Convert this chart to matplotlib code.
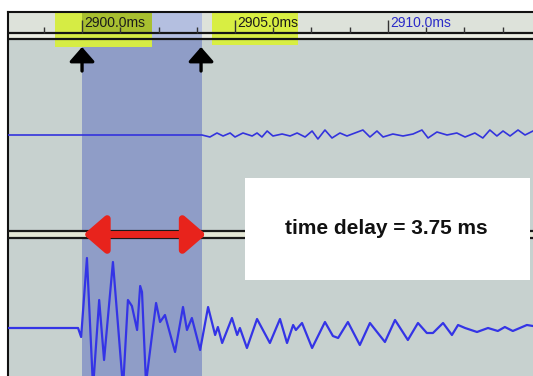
import matplotlib
matplotlib.use("Agg")
import matplotlib.pyplot as plt
from matplotlib.patches import Rectangle, FancyArrowPatch

# ---------------- data (time in ms, amplitude in screen units, up = positive) ----------------
major_ticks = [2900.0, 2905.0, 2910.0]
major_labels = ["2900.0ms", "2905.0ms", "2910.0ms"]
minor_ticks = [2898.75, 2901.25, 2902.5, 2903.75, 2906.25, 2907.5, 2908.75,
               2911.25, 2912.5, 2913.75]

sel_start, sel_end = 2900.0, 2903.92
delay_label = "time delay = 3.75 ms"

# upper trace (reference receiver)
t_top = [2897.58, 2903.92, 2904.18, 2904.41, 2904.61, 2904.84, 2905.00, 2905.26,
         2905.56, 2905.72, 2905.88, 2906.05, 2906.24, 2906.54, 2906.80, 2907.03,
         2907.29, 2907.52, 2907.71, 2907.94, 2908.17, 2908.43, 2908.66, 2909.18,
         2909.41, 2909.64, 2909.84, 2910.16, 2910.49, 2910.82, 2911.11, 2911.31,
         2911.60, 2911.93, 2912.25, 2912.52, 2912.84, 2913.10, 2913.33, 2913.56,
         2913.76, 2913.99, 2914.25, 2914.48, 2914.74]
a_top = [0, 0, -2, 2, -1, 2, -2, 2,
         -1, 2, -2, 4, -1, 1, -1, 2,
         -2, 4, -4, 5, -3, 2, -1, 5,
         -2, 4, -2, 1, -1, 1, 5, -3,
         3, 0, 2, -2, 2, -3, 5, -1,
         4, -1, 5, 0, 4]

# lower trace (delayed receiver)
t_bot = [2897.58, 2899.87, 2899.97, 2900.16, 2900.36, 2900.56, 2900.72, 2901.01,
         2901.34, 2901.50, 2901.63, 2901.80, 2901.90, 2901.96, 2902.09, 2902.42,
         2902.55, 2902.71, 2903.04, 2903.30, 2903.43, 2903.59, 2903.86, 2904.12,
         2904.35, 2904.44, 2904.58, 2904.90, 2905.07, 2905.16, 2905.39, 2905.72,
         2906.14, 2906.47, 2906.70, 2906.90, 2906.99, 2907.19, 2907.52, 2907.94,
         2908.20, 2908.37, 2908.69, 2909.08, 2909.41, 2909.90, 2910.23, 2910.65,
         2910.98, 2911.27, 2911.47, 2911.80, 2912.09, 2912.29, 2912.52, 2912.91,
         2913.27, 2913.59, 2913.82, 2914.08, 2914.54, 2914.74]
a_bot = [0, 0, -9, 70, -60, 28, -32, 66,
         -60, 28, 22, -2, 42, 36, -55, 25,
         6, 13, -24, 21, -2, 10, -22, 21,
         -7, 1, -15, 10, -7, 0, -20, 9,
         -15, 9, -15, 3, -2, 5, -20, 6,
         -8, -10, 6, -17, 5, -14, 8, -12,
         5, -5, -5, 5, -7, 3, 0, -4,
         0, -3, 1, -3, 3, 2]

# ---------------- layout ----------------
W, H = 533, 376
fig = plt.figure(figsize=(W / 100, H / 100), dpi=100)
fig.patch.set_facecolor("white")
ax = fig.add_axes([8 / W, 0, (W - 8) / W, (H - 12) / H])
x0, x1 = 2897.58, 2914.74
ax.set_xlim(x0, x1)
ax.set_ylim(376, 12)
ax.set_facecolor("#c7d1cf")
for s in ("right", "bottom"):
    ax.spines[s].set_visible(False)
for s in ("left", "top"):
    ax.spines[s].set_color("#111111")
    ax.spines[s].set_linewidth(1.5)
ax.set_xticks([])
ax.set_yticks([])

RULER_TOP, RULER_BOT, LINE2 = 12, 33, 39
BASE1, BASE2 = 135, 328
MID1, MID2 = 231, 238

def rect(xa, xb, ya, yb, color, z):
    ax.add_patch(Rectangle((xa, ya), xb - xa, yb - ya, facecolor=color,
                           edgecolor="none", zorder=z))

# ruler background
rect(x0, x1, RULER_TOP, RULER_BOT, "#dde2da", 1)
rect(x0, x1, RULER_BOT, LINE2, "#eceee4", 1)
# selection region
rect(sel_start, sel_end, LINE2, 376, "#8f9dc7", 1.2)
rect(sel_start, sel_end, RULER_TOP, LINE2, "#b4bfe0", 1.2)
# yellow highlights
rect(2899.12, 2902.29, RULER_TOP, 47, "#d6ec44", 1.5)
rect(sel_start, 2902.29, RULER_TOP, RULER_BOT, "#a8bf30", 1.6)
rect(2904.25, 2907.06, RULER_TOP, 45, "#d8ee42", 1.5)

# ruler lines and ticks
ax.hlines([RULER_BOT, LINE2], x0, x1, color="#151515", lw=1.6, zorder=3)
ax.vlines(major_ticks, 20, RULER_BOT, color="#333333", lw=1.0, zorder=3)
ax.vlines(minor_ticks, 27, RULER_BOT, color="#333333", lw=1.0, zorder=3)
label_colors = ["#1a1a1a", "#1a1a1a", "#2a2ac8"]
for t, lab, c in zip(major_ticks, major_labels, label_colors):
    ax.text(t + 0.08, 27.5, lab, fontsize=10, family="Liberation Sans",
            color=c, ha="left", va="baseline", zorder=4)

# selection markers (black up arrows)
for t in (sel_start, sel_end - 0.03):
    ax.add_patch(FancyArrowPatch((t, 71), (t, 47),
                 arrowstyle="-|>,head_length=0.8,head_width=0.7",
                 mutation_scale=11, color="black", lw=2.4,
                 shrinkA=0, shrinkB=0, zorder=6))

# middle double line
rect(x0, x1, MID1, MID2, "#e4e7d6", 2)
ax.hlines([MID1, MID2], x0, x1, color="#1a1a1a", lw=1.6, zorder=3)

# traces
ax.plot(t_top, [BASE1 - a for a in a_top], color="#3333dd", lw=1.2, zorder=4,
        solid_joinstyle="round")
ax.plot(t_bot, [BASE2 - a for a in a_bot], color="#3434e6", lw=1.6, zorder=4,
        solid_joinstyle="round")

# red double arrow
ymid = (MID1 + MID2) / 2
ax.add_patch(FancyArrowPatch((sel_start + 0.05, ymid), (2904.05, ymid),
             arrowstyle="<|-|>,head_length=1.1,head_width=0.95",
             mutation_scale=12, color="#e8231c", lw=5,
             shrinkA=0, shrinkB=0, zorder=7))

# text box
rect(2905.33, 2914.64, 178, 280, "white", 5)
ax.text(2909.93, 229, delay_label, fontsize=15, fontweight="bold",
        family="Liberation Sans", color="#111111", ha="center", va="center",
        zorder=6)

fig.savefig("out.png", dpi=100, facecolor="white")
